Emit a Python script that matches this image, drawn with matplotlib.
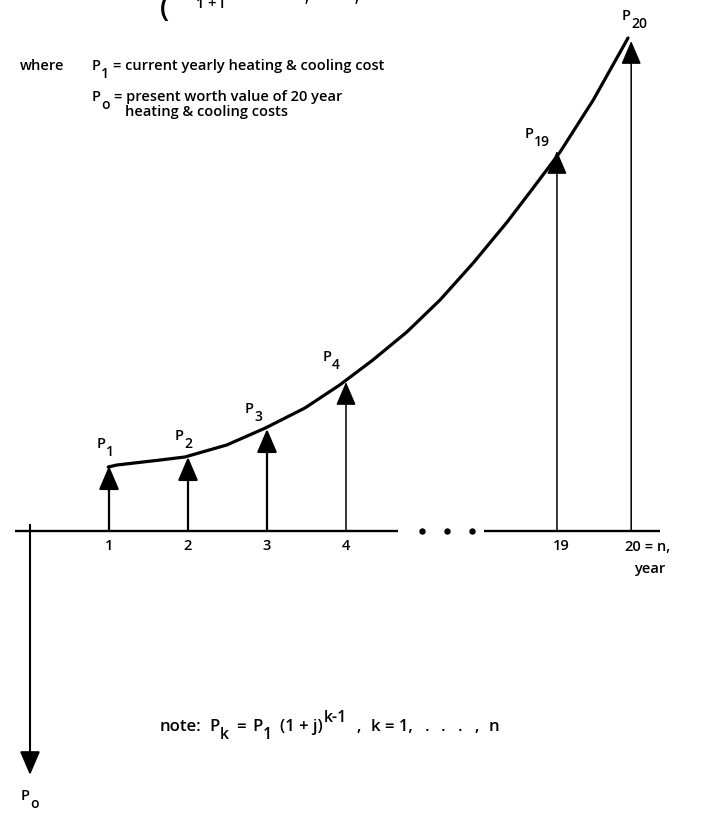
"""
Cash-flow diagram: yearly heating & cooling costs growing at rate j,
with the present worth P_o drawn as a single downward arrow at year 0.
"""

import matplotlib

matplotlib.use("Agg")
import matplotlib.pyplot as plt

# ── Data ───────────────────────────────────────────────────────────────────
years = [1, 2, 3, 4, 19, 20]
year_labels = ["1", "2", "3", "4", "19", "20"]
payments = [65, 74, 102, 149, 380, 490]          # arrow heights above the axis
payment_labels = ["1", "2", "3", "4", "19", "20"]
present_worth = -244                              # P_o arrow (downwards)

# growth curve through the arrow tips, in axis slots / height
curve_slot = [0.99, 1.10, 1.65, 1.96, 2.49, 2.98, 3.48, 3.92, 4.34, 4.77,
              5.19, 5.61, 6.04, 6.33, 6.54, 6.71, 7.13, 7.57]
curve_value = [64, 66, 71, 74, 86, 103, 123, 146, 171, 199, 231, 268, 309,
               339, 361, 379, 431, 493]

FONT = "Open Sans"
plt.rcParams["font.family"] = [FONT, "DejaVu Sans"]
plt.rcParams["font.weight"] = "semibold"

W, H = 707, 817
BASE_Y = 531      # pixel row of the time axis
UNIT = 79         # pixels per year before the break
FS = 10.5


def slot(year):
    """Axis position of a year; the axis is broken between 4 and 19."""
    if year <= 4:
        return year
    return 6.67 + (year - 19) * 0.94


def px(x, y):
    """Pixel position -> data coords (slot, height)."""
    return (x - 30) / UNIT, BASE_Y - y


fig = plt.figure(figsize=(W / 100, H / 100), dpi=100)
ax = fig.add_axes([0, 0, 1, 1])
ax.set_xlim(px(0, 0)[0], px(W, 0)[0])
ax.set_ylim(BASE_Y - H, BASE_Y)
ax.axis("off")
renderer = fig.canvas.get_renderer()


def rich(x, y, pieces, size=FS, **kw):
    """Lay out text pieces left to right from pixel (x, baseline y).

    pieces: (text, drop_px, scale, gap_px) -- drop > 0 lowers a subscript.
    """
    for s, drop, scale, gap in pieces:
        t = fig.text(x / W, 1 - (y + drop) / H, s, fontsize=size * scale,
                     va="baseline", ha="left", **kw)
        x += t.get_window_extent(renderer).width + gap
    return x


def P(sub, drop=8, gap=4):
    return [("P", 0, 1.0, 0), (sub, drop, 0.95, gap)]


# time axis, broken by dots
ax.plot([px(15, 0)[0], px(398, 0)[0]], [0, 0], color="black", lw=1.7,
        solid_capstyle="butt")
ax.plot([px(484, 0)[0], px(660, 0)[0]], [0, 0], color="black", lw=1.7,
        solid_capstyle="butt")
ax.plot([px(422, 0)[0], px(447, 0)[0], px(472, 0)[0]], [0, 0, 0], "o",
        color="black", ms=3.6)

# cost arrows
head = "-|>,head_length=1.45,head_width=0.62"
for yr, val in zip(years, payments):
    lw = 1.6 if yr <= 3 else 1.1
    ax.annotate("", xy=(slot(yr), val), xytext=(slot(yr), 0),
                arrowprops=dict(arrowstyle=head, lw=lw, color="black",
                                shrinkA=0, shrinkB=0, mutation_scale=10))

# present-worth arrow
ax.plot([0, 0], [6, 0], color="black", lw=1.5)
ax.annotate("", xy=(0, present_worth), xytext=(0, 0),
            arrowprops=dict(arrowstyle=head, lw=1.5, color="black",
                            shrinkA=0, shrinkB=0, mutation_scale=10))

# growth curve
ax.plot(curve_slot, curve_value, color="black", lw=2.3,
        solid_capstyle="round", solid_joinstyle="round")

# P labels above arrows (pixel left edge, baseline)
label_px = [(97, 448), (175, 440), (245, 413), (323, 361), (525, 138), (622, 20)]
for sub, (lx, ly) in zip(payment_labels, label_px):
    rich(lx, ly, P(sub))
rich(21, 800, P("o"))

# year tick labels
for yr, lab in zip(years[:-1], year_labels[:-1]):
    x = slot(yr) + (0.06 if yr == 19 else 0)
    ax.text(x, -8, lab, fontsize=FS, ha="center", va="top")
rich(624, 551, [(year_labels[-1], 0, 1.0, 0), (" = n,", 0, 1.0, 0)])
rich(634, 573, [("year", 0, 1.0, 0)])

# legend text
rich(20, 70, [("where", 0, 1.0, 0)])
rich(92, 70, P("1") + [("= current yearly heating & cooling cost", 0, 1.0, 0)])
rich(92, 101, P("o") + [("= present worth value of 20 year", 0, 1.0, 0)])
rich(125, 116, [("heating & cooling costs", 0, 1.0, 0)])

# note on the growth law
rich(160, 731,
     [("note:", 0, 1.0, 8)] + P("k", drop=8, gap=7) + [("=", 0, 1.0, 7)]
     + P("1", drop=8, gap=8)
     + [("(1 + j)", 0, 1.0, 1), ("k-1", -9, 0.95, 9), (",", 0, 1.0, 10),
        ("k = 1,", 0, 1.0, 12), (".", 0, 1.0, 12), (".", 0, 1.0, 12),
        (".", 0, 1.0, 12), (",", 0, 1.0, 10), ("n", 0, 1.0, 0)],
     size=12)

# formula at the top, cut off by the page edge
rich(160, 17, [("(", 0, 2.0, 0)])
rich(196, 8, [("1 + i", 0, 1.0, 0)])
rich(305, 2, [(",", 0, 1.0, 0)])
rich(355, 2, [(",", 0, 1.0, 0)])

fig.savefig("out.png", dpi=100)
